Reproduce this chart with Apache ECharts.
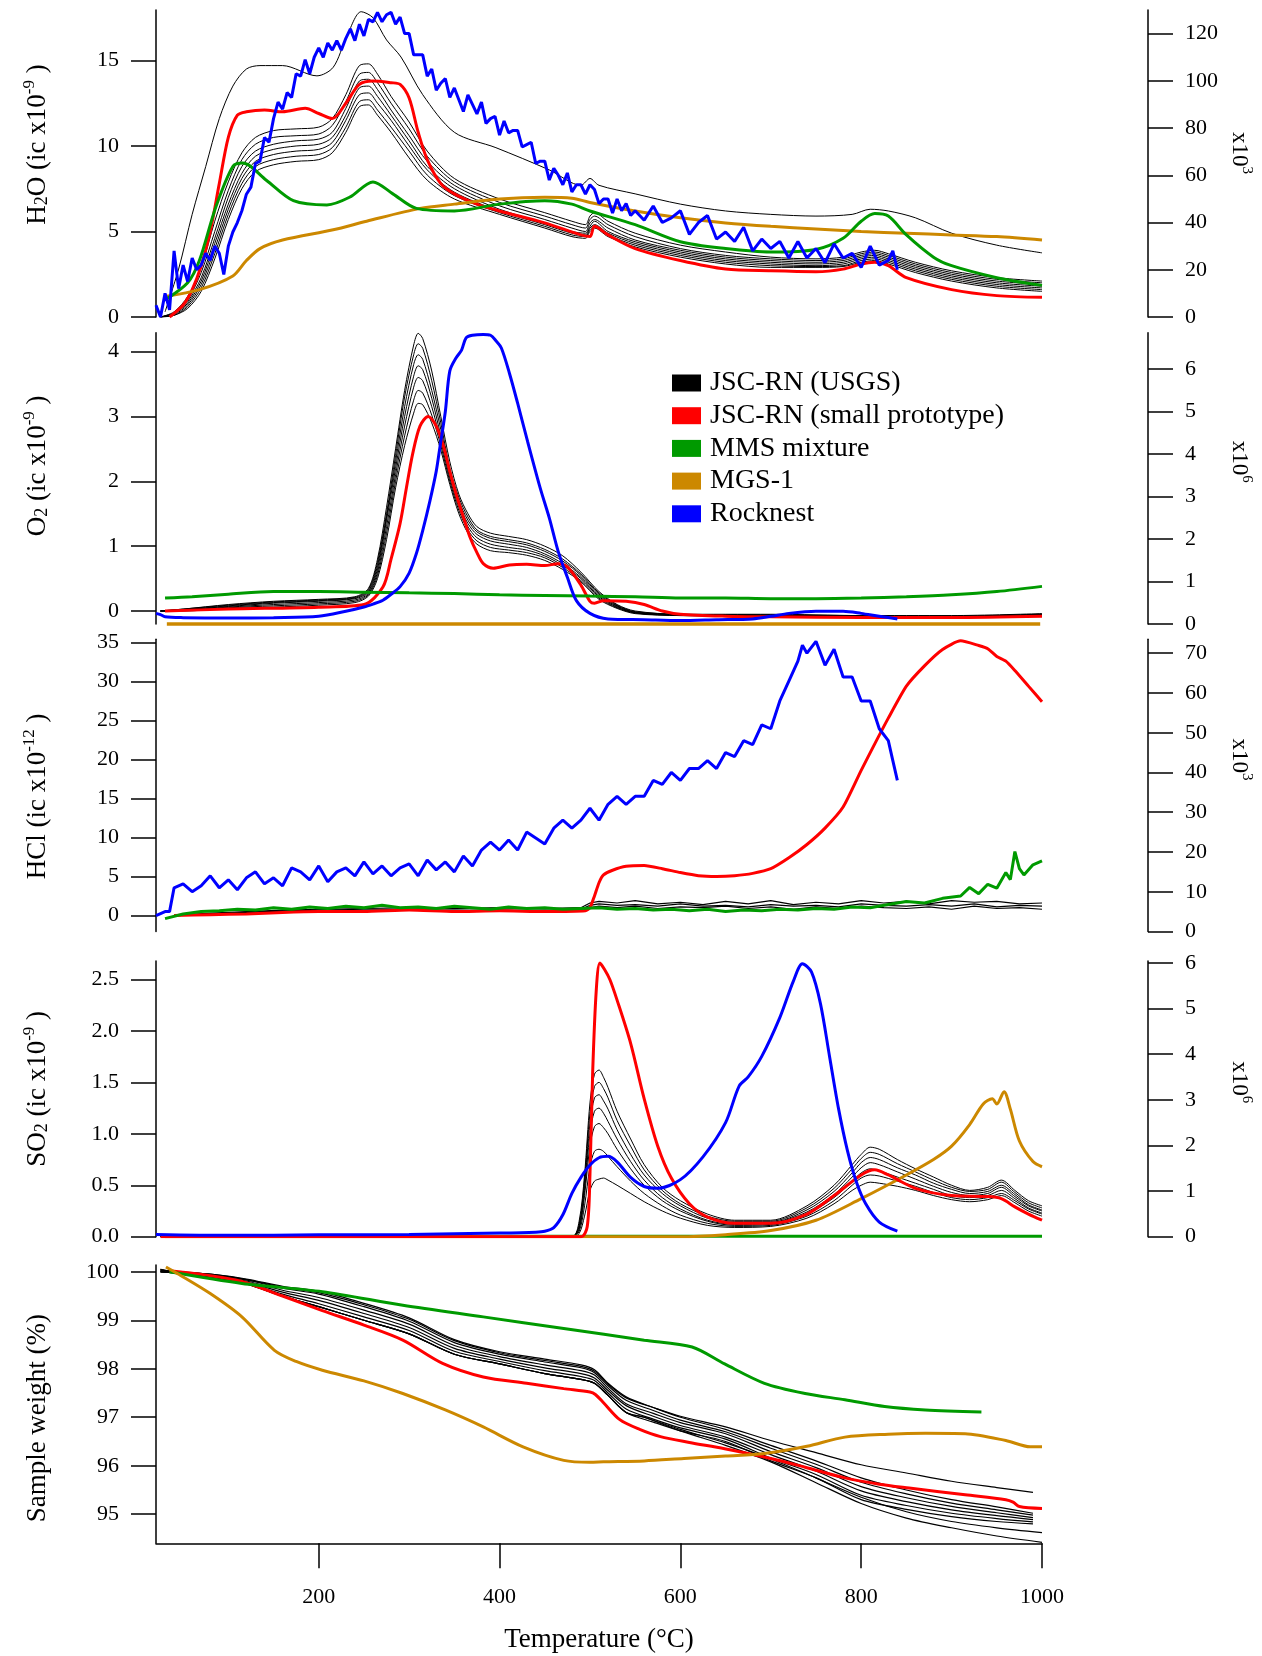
<!DOCTYPE html>
<html><head><meta charset="utf-8">
<script src="https://cdn.jsdelivr.net/npm/echarts@6/dist/echarts.min.js"></script>
<style>html,body{margin:0;padding:0;background:#fff}#c{width:1262px;height:1656px}</style>
</head><body><div id="c"></div>
<script>
// ---------------- tick labels ----------------
const xTicks = [200,400,600,800,1000];
const h2oTicksL = [0,5,10,15];
const h2oTicksR = [0,20,40,60,80,100,120];
const o2TicksL = [0,1,2,3,4];
const o2TicksR = [0,1,2,3,4,5,6];
const hclTicksL = [0,5,10,15,20,25,30,35];
const hclTicksR = [0,10,20,30,40,50,60,70];
const so2TicksL = [0,0.5,1,1.5,2,2.5];
const so2TicksR = [0,1,2,3,4,5,6];
const wTicksL = [95,96,97,98,99,100];
const legendNames = ['JSC-RN (USGS)','JSC-RN (small prototype)','MMS mixture','MGS-1','Rocknest'];

// ---------------- H2O ----------------
const h2oBlackT = [25,40,55,70,85,100,115,130,150,175,200,215,230,245,255,265,280,300,320,350,400,450,480,495,500,505,520,550,600,650,700,750,780,800,815,830,860,900,950,1000];
const h2oBlack1 = [0,0.3,1.2,2.9,5.6,7.9,9.6,10.5,10.9,11.0,11.1,11.6,13.0,14.7,14.8,14.2,12.9,11.4,9.7,8.1,6.9,6.1,5.6,5.4,5.9,6.1,5.6,4.9,4.2,3.8,3.5,3.4,3.5,3.8,3.9,3.7,3.2,2.7,2.3,2.1];
const h2oBlack2 = [0,0.25,1.0,2.6,5.0,7.4,9.2,10.1,10.5,10.6,10.7,11.2,12.6,14.2,14.3,13.7,12.5,11.0,9.4,7.9,6.7,5.9,5.4,5.2,5.7,5.9,5.4,4.7,4.0,3.6,3.4,3.3,3.4,3.7,3.8,3.6,3.1,2.6,2.2,2.0];
const h2oBlack3 = [0,0.2,0.9,2.3,4.6,7.0,8.8,9.7,10.1,10.3,10.4,10.8,12.2,13.8,13.9,13.3,12.1,10.6,9.1,7.7,6.5,5.7,5.2,5.0,5.5,5.7,5.2,4.5,3.9,3.5,3.3,3.2,3.3,3.6,3.7,3.5,3.0,2.5,2.1,1.9];
const h2oBlack4 = [0,0.2,0.8,2.1,4.3,6.6,8.4,9.4,9.8,10.0,10.1,10.5,11.8,13.4,13.5,12.9,11.8,10.3,8.8,7.5,6.3,5.5,5.0,4.9,5.3,5.6,5.0,4.4,3.8,3.4,3.2,3.1,3.2,3.5,3.6,3.4,2.9,2.4,2.0,1.8];
const h2oBlack5 = [0,0.15,0.7,1.9,4.0,6.3,8.1,9.1,9.5,9.7,9.8,10.2,11.5,13.0,13.1,12.5,11.5,10.0,8.6,7.3,6.2,5.4,4.9,4.8,5.2,5.4,4.9,4.3,3.7,3.3,3.1,3.0,3.1,3.4,3.5,3.3,2.8,2.3,1.9,1.7];
const h2oBlack6 = [0,0.1,0.6,1.7,3.7,6.0,7.8,8.8,9.2,9.4,9.5,9.9,11.1,12.6,12.7,12.1,11.1,9.7,8.3,7.1,6.1,5.3,4.8,4.7,5.1,5.3,4.8,4.2,3.6,3.2,3.0,2.95,3.0,3.3,3.4,3.2,2.7,2.2,1.8,1.6];
const h2oBlack7 = [0,0.1,0.5,1.5,3.4,5.7,7.5,8.5,8.9,9.1,9.2,9.6,10.8,12.3,12.4,11.8,10.8,9.3,8.0,6.9,6.0,5.2,4.7,4.6,5.0,5.2,4.7,4.1,3.5,3.1,2.9,2.9,2.95,3.2,3.3,3.1,2.6,2.1,1.7,1.5];
const h2oOutT = [30,45,60,75,90,105,120,135,160,198,216,231,247,260,275,291,315,350,396,455,490,500,510,550,600,650,700,750,790,810,830,860,900,950,1000];
const h2oOut  = [0.3,2.8,6.0,8.8,11.6,13.5,14.5,14.7,14.7,14.1,14.6,16.4,17.85,17.5,16.2,15.2,13.0,10.8,9.9,8.6,7.7,8.1,7.7,7.2,6.6,6.2,6.0,5.9,6.0,6.3,6.2,5.8,4.9,4.2,3.75];
const h2oRedT = [35,50,60,70,80,90,100,110,120,140,160,185,200,215,230,245,260,280,290,300,310,320,335,350,375,400,450,490,500,505,520,550,600,650,700,750,780,800,815,830,850,900,950,1000];
const h2oRed  = [0,0.7,1.6,3.0,5.0,7.8,10.5,11.8,12.0,12.1,12.0,12.2,11.9,11.6,12.5,13.6,13.8,13.7,13.6,12.8,10.8,9.2,7.8,7.2,6.6,6.2,5.5,4.8,4.7,5.3,4.8,4.0,3.3,2.8,2.7,2.65,2.8,3.1,3.2,3.0,2.3,1.6,1.25,1.15];
const h2oGreenT = [30,55,68,86,105,116,142,172,209,234,260,282,308,350,400,450,480,500,550,600,650,700,750,780,800,815,830,850,880,900,950,1000];
const h2oGreen  = [1.0,2.0,3.3,6.4,8.8,9.0,8.0,6.8,6.55,7.0,7.9,7.2,6.35,6.2,6.6,6.8,6.6,6.2,5.4,4.4,4.0,3.8,3.95,4.6,5.6,6.05,5.9,4.8,3.5,3.0,2.3,1.85];
const h2oOrangeT = [30,68,105,120,135,160,216,253,312,350,400,450,480,500,550,600,650,700,750,800,850,900,950,1000];
const h2oOrange  = [1.2,1.6,2.4,3.3,4.0,4.5,5.1,5.6,6.35,6.6,6.9,7.0,6.95,6.7,6.2,5.8,5.5,5.3,5.15,5.0,4.9,4.8,4.7,4.5];
const h2oBlueT = [20,25,30,35,40,45,50,55,60,65,70,75,80,85,90,95,100,105,110,115,
  120,125,130,135,140,145,150,155,160,165,170,175,180,185,190,195,200,205,210,215,
  220,225,230,235,240,245,250,255,260,265,270,275,280,285,290,295,300,305,310,315,
  320,325,330,335,340,345,350,355,360,365,370,375,380,385,390,395,400,405,410,415,
  420,425,430,435,440,445,450,455,460,465,470,475,480,485,490,495,500,505,510,515,
  520,525,530,535,540,545,550,
  560,570,580,590,600,610,620,630,640,650,660,670,680,690,700,710,720,730,740,750,760,770,780,790,800,810,820,830,835,840];
const h2oBlue = [5,0,10,3,28,12,22,15,25,20,22,27,24,30,27,18,30,36,40,45,
  52,55,65,66,76,74,84,91,88,95,93,103,102,109,103,110,114,110,116,113,
  117,113,118,122,117,124,119,126,125,129,125,128,129,124,127,120,120,111,111,111,
  102,105,96,99,101,93,97,92,87,94,90,86,91,82,84,85,77,83,78,79,
  79,72,73,74,65,66,66,58,63,60,56,61,53,56,56,52,56,54,48,50,
  50,44,50,45,48,43,45,
  41,47,40,42,45,35,40,43,33,36,32,38,28,33,29,32,25,32,25,29,23,31,25,27,21,30,22,24,28,20];

// ---------------- O2 ----------------
const o2BlackT = [25,50,100,150,200,240,255,265,275,285,295,305,310,315,325,335,345,355,365,375,390,410,430,450,470,490,510,530,550,600,700,800,900,1000];
const o2Black1 = [0,0.03,0.1,0.15,0.18,0.22,0.35,0.8,1.6,2.5,3.4,4.1,4.28,4.2,3.7,3.0,2.3,1.8,1.5,1.3,1.2,1.15,1.1,1.0,0.85,0.6,0.3,0.1,0.0,-0.05,-0.05,-0.07,-0.07,-0.04];
const o2Black2 = [0,0.03,0.09,0.14,0.17,0.21,0.33,0.75,1.5,2.4,3.3,3.95,4.12,4.05,3.55,2.9,2.2,1.75,1.45,1.25,1.15,1.1,1.05,0.95,0.8,0.57,0.28,0.09,-0.01,-0.05,-0.06,-0.07,-0.08,-0.05];
const o2Black3 = [0,0.02,0.08,0.13,0.16,0.2,0.31,0.7,1.45,2.3,3.15,3.8,3.95,3.88,3.4,2.8,2.15,1.7,1.4,1.22,1.12,1.07,1.02,0.92,0.77,0.55,0.26,0.08,-0.02,-0.06,-0.06,-0.08,-0.08,-0.05];
const o2Black4 = [0,0.02,0.07,0.12,0.15,0.19,0.29,0.65,1.4,2.2,3.0,3.62,3.78,3.72,3.28,2.7,2.1,1.65,1.35,1.18,1.08,1.03,0.98,0.88,0.73,0.52,0.24,0.07,-0.02,-0.06,-0.07,-0.08,-0.09,-0.06];
const o2Black5 = [0,0.01,0.06,0.1,0.13,0.17,0.27,0.6,1.3,2.1,2.85,3.45,3.6,3.55,3.15,2.62,2.05,1.6,1.3,1.13,1.03,0.98,0.94,0.85,0.7,0.5,0.22,0.06,-0.03,-0.06,-0.07,-0.08,-0.09,-0.06];
const o2Black6 = [0,0.01,0.05,0.08,0.11,0.15,0.25,0.55,1.2,2.0,2.7,3.25,3.4,3.36,3.02,2.55,2.0,1.55,1.25,1.08,0.98,0.94,0.9,0.82,0.67,0.47,0.2,0.05,-0.03,-0.07,-0.07,-0.09,-0.09,-0.06];
const o2Black7 = [0,0.0,0.04,0.06,0.09,0.13,0.23,0.5,1.1,1.9,2.55,3.05,3.2,3.18,2.9,2.48,1.95,1.5,1.2,1.03,0.93,0.9,0.86,0.78,0.64,0.45,0.18,0.04,-0.04,-0.07,-0.08,-0.09,-0.1,-0.07];
const o2RedT = [30,100,200,250,271,280,290,297,304,312,321,330,338,345,352,360,367,375,382,393,411,430,450,465,475,490,500,505,515,540,560,580,600,650,700,800,900,1000];
const o2Red  = [0,0.03,0.06,0.1,0.37,0.8,1.35,1.9,2.43,2.85,3.0,2.85,2.54,2.15,1.8,1.45,1.15,0.9,0.73,0.66,0.71,0.72,0.7,0.73,0.68,0.4,0.15,0.12,0.16,0.15,0.1,0.0,-0.05,-0.08,-0.09,-0.1,-0.1,-0.08];
const o2GreenT = [30,60,100,150,200,250,300,350,400,450,500,550,600,650,700,750,800,850,900,950,1000];
const o2Green  = [0.2,0.22,0.26,0.3,0.3,0.29,0.28,0.27,0.25,0.24,0.23,0.22,0.2,0.2,0.19,0.19,0.2,0.22,0.25,0.3,0.38];
const o2OrangeT = [32,998];
const o2Orange  = [-0.2,-0.2];
const o2BlueT = [20,25,30,50,100,150,200,230,250,260,271,280,290,300,308,315,323,330,334,340,345,352,358,363,370,382,390,396,402,411,420,431,445,455,465,475,485,500,520,560,600,640,680,700,720,750,780,800,820,840];
const o2Blue  = [0.25,0.22,0.17,0.15,0.14,0.15,0.18,0.3,0.4,0.47,0.56,0.7,0.88,1.2,1.66,2.2,2.9,3.6,4.16,5.0,5.96,6.27,6.45,6.74,6.8,6.82,6.8,6.67,6.5,5.9,5.2,4.3,3.2,2.5,1.7,1.1,0.55,0.25,0.12,0.1,0.08,0.1,0.12,0.18,0.25,0.3,0.3,0.25,0.18,0.12];

// ---------------- HCl ----------------
const hclBlackT = [40,80,120,160,200,250,300,350,400,450,490,500,510,530,550,575,600,625,650,675,700,725,750,775,800,825,850,875,900,925,950,975,1000];
const hclBlack1 = [0,0.3,0.5,0.7,0.8,0.9,1.0,0.9,1.0,0.9,1.0,1.6,1.8,1.6,1.9,1.5,1.7,1.4,1.8,1.5,1.9,1.4,1.7,1.5,1.9,1.6,1.8,1.5,1.9,1.7,1.8,1.5,1.6];
const hclBlack2 = [0,0.2,0.4,0.6,0.7,0.8,0.8,0.9,0.8,0.9,0.8,1.3,1.5,1.3,1.4,1.2,1.5,1.2,1.3,1.1,1.4,1.2,1.3,1.1,1.5,1.3,1.2,1.4,1.2,1.5,1.1,1.3,1.2];
const hclBlack3 = [0,0.1,0.3,0.5,0.6,0.6,0.7,0.7,0.6,0.7,0.6,1.0,1.2,1.0,1.2,0.9,1.1,1.0,1.2,0.9,1.1,0.8,1.1,0.9,1.2,1.0,0.9,1.1,0.8,1.2,0.9,1.0,0.8];
const hclRedT = [40,80,120,160,200,250,300,350,400,450,495,500,505,510,515,525,540,560,580,600,620,640,660,680,700,720,740,760,780,800,815,830,850,870,890,910,930,940,950,960,970,985,1000];
const hclRed  = [0,0.1,0.2,0.4,0.5,0.5,0.7,0.5,0.6,0.5,0.6,1.0,2.5,4.2,5.2,5.8,6.3,6.4,6.0,5.5,5.1,5.0,5.1,5.4,6.0,7.4,9.1,11.2,13.9,18.6,22.0,25.3,29.4,32.0,34.1,35.2,34.6,34.2,33.2,32.6,31.4,29.4,27.4];
const hclGreenT = [30,50,70,90,110,130,150,170,190,210,230,250,270,290,310,330,350,370,390,410,430,450,470,490,510,530,550,570,590,610,630,650,670,690,710,730,750,770,790,810,830,850,870,890,910,920,930,940,950,960,965,970,975,980,990,1000];
const hclGreen  = [-0.4,0.2,0.5,0.6,0.8,0.7,1.0,0.8,1.1,0.9,1.2,1.0,1.3,1.0,1.1,0.9,1.2,1.0,0.8,1.1,0.9,1.0,0.8,0.9,1.0,0.8,0.9,0.7,0.8,0.6,0.8,0.5,0.7,0.6,0.8,0.7,0.9,0.8,1.1,1.0,1.4,1.8,1.6,2.2,2.5,3.6,2.8,4.0,3.5,5.5,4.6,8.2,6.0,5.2,6.5,7.0];
const hclBlueT = [20,30,35,40,
  50,60,70,80,90,100,110,120,130,140,150,160,170,180,190,200,210,220,230,240,250,260,270,280,290,300,310,320,330,340,
  350,360,370,380,390,400,410,420,430,440,450,460,470,480,490,500,510,520,530,540,550,560,570,580,590,600,610,620,630,640,
  650,660,670,680,690,700,710,720,730,735,740,750,760,770,780,790,800,810,820,830,835,840];
const hclBlue = [4,5,5,11,
  12,10,11.5,14,11,13,10.5,13.5,15,12,13.5,11.5,16,15,13,16.5,12.5,15,16,14,17.5,14.5,16.5,14,16,17,14,18,15.5,17.5,
  15,19,16.5,20.5,22.5,20.5,23,20.5,25,23.5,22,26,28,26,28,31,28,32,34,32,34,34,38,37,40,38,41,41,43,41,
  45,44,48,47,52,51,58,63,68,72,70,73,67,71,64,64,58,58,51,48,43,38];

// ---------------- SO2 ----------------
const so2BlackT = [25,480,488,494,500,505,510,515,520,530,545,560,580,600,630,660,700,740,770,790,800,810,820,840,860,880,900,920,940,955,970,985,1000];
const so2Black1 = [0,0,0.15,0.6,1.3,1.58,1.62,1.55,1.45,1.22,0.95,0.7,0.48,0.35,0.22,0.16,0.16,0.3,0.5,0.7,0.8,0.87,0.85,0.75,0.66,0.58,0.5,0.45,0.48,0.55,0.45,0.35,0.3];
const so2Black2 = [0,0,0.12,0.55,1.2,1.46,1.5,1.44,1.35,1.13,0.88,0.65,0.45,0.32,0.2,0.15,0.15,0.28,0.47,0.66,0.76,0.82,0.8,0.71,0.63,0.55,0.48,0.44,0.46,0.53,0.43,0.33,0.28];
const so2Black3 = [0,0,0.1,0.5,1.1,1.35,1.38,1.32,1.24,1.04,0.8,0.6,0.42,0.3,0.18,0.14,0.14,0.26,0.44,0.62,0.72,0.77,0.75,0.67,0.6,0.52,0.46,0.42,0.44,0.5,0.41,0.31,0.26];
const so2Black4 = [0,0,0.08,0.45,1.0,1.22,1.25,1.2,1.12,0.95,0.73,0.55,0.38,0.27,0.16,0.12,0.13,0.24,0.41,0.58,0.67,0.72,0.7,0.63,0.56,0.49,0.43,0.4,0.42,0.48,0.39,0.3,0.25];
const so2Black5 = [0,0,0.07,0.4,0.88,1.07,1.1,1.06,1.0,0.85,0.66,0.5,0.35,0.25,0.15,0.11,0.12,0.22,0.38,0.54,0.62,0.66,0.64,0.58,0.52,0.46,0.4,0.38,0.4,0.45,0.37,0.28,0.23];
const so2Black6 = [0,0,0.05,0.3,0.68,0.83,0.85,0.83,0.78,0.68,0.54,0.42,0.3,0.21,0.13,0.1,0.11,0.2,0.35,0.5,0.57,0.6,0.59,0.54,0.49,0.43,0.38,0.36,0.38,0.42,0.35,0.27,0.22];
const so2Black7 = [0,0,0.03,0.2,0.45,0.54,0.56,0.57,0.55,0.5,0.42,0.34,0.25,0.18,0.11,0.09,0.1,0.18,0.32,0.45,0.5,0.53,0.52,0.49,0.45,0.4,0.36,0.34,0.36,0.4,0.33,0.25,0.2];
const so2RedT = [25,490,497,500,503,507,511,516,522,530,545,560,575,590,610,630,660,700,740,770,800,815,830,860,900,940,955,970,985,1000];
const so2Red  = [0,0,0.1,0.6,1.6,2.4,2.66,2.6,2.5,2.3,1.88,1.34,0.88,0.57,0.32,0.19,0.13,0.13,0.22,0.4,0.6,0.65,0.6,0.47,0.4,0.39,0.37,0.29,0.22,0.16];
const so2GreenT = [30,1000];
const so2Green  = [0.005,0.005];
const so2OrangeT = [30,600,650,700,750,800,850,880,900,920,935,945,950,958,965,975,990,1000];
const so2Orange  = [0,0,0.02,0.06,0.16,0.37,0.6,0.75,0.88,1.09,1.29,1.34,1.29,1.41,1.24,0.93,0.73,0.68];
const so2BlueT = [20,100,200,300,400,440,450,460,470,480,490,500,510,520,530,545,560,575,600,625,650,665,675,690,710,725,735,745,755,765,775,785,795,805,820,840];
const so2Blue  = [0.05,0.03,0.04,0.05,0.08,0.1,0.12,0.2,0.48,0.95,1.3,1.57,1.73,1.76,1.64,1.3,1.1,1.06,1.25,1.75,2.5,3.3,3.5,3.95,4.8,5.6,5.98,5.8,5.1,3.95,2.8,1.87,1.18,0.72,0.32,0.12];

// ---------------- Sample weight ----------------
const wBlackT = [25,40,80,120,160,200,250,300,350,400,450,490,505,520,540,570,600,650,700,750,800,850,900,950,990];
const wBlack1 = [100.05,100.0,99.95,99.85,99.7,99.6,99.35,99.05,98.6,98.35,98.2,98.08,97.98,97.7,97.42,97.2,97.0,96.75,96.42,96.1,95.75,95.5,95.3,95.15,95.02];
const wBlack2 = [100.04,100.0,99.94,99.83,99.66,99.54,99.28,98.98,98.54,98.3,98.14,98.02,97.92,97.65,97.35,97.14,96.94,96.7,96.36,96.03,95.66,95.42,95.23,95.09,94.98];
const wBlack3 = [100.03,99.99,99.93,99.81,99.62,99.47,99.21,98.92,98.48,98.25,98.08,97.96,97.87,97.6,97.28,97.08,96.89,96.66,96.29,95.96,95.57,95.34,95.16,95.03,94.93];
const wBlack4 = [100.02,99.99,99.92,99.79,99.58,99.41,99.14,98.85,98.42,98.2,98.02,97.9,97.81,97.55,97.24,97.02,96.83,96.59,96.23,95.89,95.48,95.26,95.09,94.97,94.89];
const wBlack5 = [100.01,99.98,99.91,99.77,99.54,99.34,99.07,98.79,98.36,98.15,97.96,97.84,97.76,97.5,97.17,96.96,96.78,96.55,96.16,95.82,95.39,95.18,95.02,94.91,94.84];
const wBlack6 = [100.0,99.98,99.9,99.75,99.5,99.28,99.0,98.72,98.3,98.1,97.9,97.78,97.7,97.45,97.1,96.9,96.72,96.5,96.1,95.75,95.3,95.1,94.95,94.85,94.8];
const wBlackUp = [100.05,100.0,99.95,99.84,99.68,99.57,99.32,99.02,98.58,98.33,98.17,98.05,97.95,97.68,97.4,97.2,97.02,96.8,96.52,96.27,96.02,95.85,95.68,95.55,95.45];
const wLowT = [25,40,80,120,160,200,250,300,350,400,450,490,505,520,540,560,600,650,700,750,800,850,900,950,1000];
const wBlackLow1 = [100.0,99.98,99.9,99.75,99.5,99.28,99.0,98.72,98.3,98.1,97.9,97.78,97.7,97.45,97.1,97.0,96.72,96.42,96.08,95.65,95.22,94.92,94.72,94.55,94.42];
const wBlackLow2 = [100.0,99.98,99.9,99.75,99.5,99.28,99.0,98.72,98.3,98.1,97.9,97.78,97.7,97.45,97.1,97.0,96.75,96.47,96.14,95.75,95.35,95.05,94.85,94.72,94.62];
const wRedT = [35,80,115,160,204,250,293,337,382,430,471,500,506,515,533,555,578,610,649,700,738,782,820,853,915,960,968,975,1000];
const wRed  = [100.02,99.92,99.8,99.5,99.2,98.9,98.59,98.11,97.83,97.7,97.59,97.52,97.47,97.3,96.95,96.75,96.6,96.48,96.35,96.15,95.97,95.75,95.62,95.54,95.4,95.3,95.25,95.16,95.12];
const wGreenT = [35,115,204,293,382,471,560,613,649,693,738,782,826,871,933];
const wGreen  = [100.0,99.76,99.59,99.31,99.07,98.83,98.59,98.45,98.1,97.7,97.49,97.36,97.22,97.15,97.11];
const wOrangeT = [31,44,80,115,151,175,204,250,293,340,382,426,471,500,515,560,604,650,693,740,782,830,871,915,960,987,1000];
const wOrange  = [100.1,99.96,99.55,99.07,98.38,98.15,97.97,97.75,97.49,97.15,96.8,96.39,96.11,96.07,96.08,96.1,96.15,96.2,96.25,96.4,96.59,96.65,96.67,96.66,96.52,96.39,96.39];

// ---------------- build ----------------
const FONT = "'Liberation Serif','Times New Roman',serif";
const C = {black:'#000000', red:'#ff0000', green:'#009a00', orange:'#cc8800', blue:'#0000ff'};

const gridBoxes = [[10,307],[332.7,291.3],[639.3,292.2],[961,275.7],[1265,278.3]];
const grid = gridBoxes.map(g => ({left:156, width:886, top:g[0], height:g[1], outerBoundsMode:'none', containLabel:false}));

const lineCfg = {show:true, onZero:false, lineStyle:{color:'#000', width:1.5}};
const tickCfg = v => ({show:true, inside:false, length:25, customValues:v, lineStyle:{color:'#000', width:1.5}});
const plain = v => String(v);
const labCfg = (v, fmt) => ({show:true, customValues:v, margin:37, fontFamily:FONT, fontSize:22, color:'#000', formatter:fmt || plain});

const richL = {
  n:{fontFamily:FONT, fontSize:27, color:'#000', lineHeight:30, verticalAlign:'bottom'},
  b:{fontFamily:FONT, fontSize:18, color:'#000', lineHeight:18, verticalAlign:'bottom'},
  p:{fontFamily:FONT, fontSize:17, color:'#000', lineHeight:16, verticalAlign:'top', padding:[0,0,24,0]}
};
const richR = {
  n:{fontFamily:FONT, fontSize:23, color:'#000', lineHeight:26, verticalAlign:'bottom'},
  p:{fontFamily:FONT, fontSize:15, color:'#000', lineHeight:14, verticalAlign:'top', padding:[0,0,16,0]}
};

function yLeft(gi, min, max, ticks, name, pad, fmt) {
  return {type:'value', gridIndex:gi, position:'left', min, max,
    axisLine:lineCfg, axisTick:tickCfg(ticks), axisLabel:labCfg(ticks, fmt), splitLine:{show:false},
    name, nameLocation:'middle', nameRotate:90, nameGap:105, nameMoveOverlap:false,
    nameTextStyle:{rich:richL, fontFamily:FONT, fontSize:27, color:'#000', lineHeight:30, padding:pad}};
}
function yRight(gi, min, max, ticks, name, pad) {
  return {type:'value', gridIndex:gi, position:'right', offset:106, min, max,
    axisLine:lineCfg, axisTick:tickCfg(ticks), axisLabel:labCfg(ticks), splitLine:{show:false},
    name, nameLocation:'middle', nameRotate:-90, nameGap:80, nameMoveOverlap:false,
    nameTextStyle:{rich:richR, fontFamily:FONT, fontSize:23, color:'#000', padding:pad}};
}

const yAxis = [
  yLeft(0, 0, 17.95, h2oTicksL, '{n|H}{b|2}{n|O (ic x10}{p|-9}{n| )}', [0,0,0,38]),
  yLeft(1, -0.2, 4.29, o2TicksL, '{n|O}{b|2}{n| (ic x10}{p|-9}{n| )}', [0,0,0,25]),
  yLeft(2, -2.05, 35.4, hclTicksL, '{n|HCl (ic x10}{p|-12}{n| )}', [0,22,0,0]),
  yLeft(3, 0, 2.68, so2TicksL, '{n|SO}{b|2}{n| (ic x10}{p|-9}{n| )}', [0,0,0,20], v => v.toFixed(1)),
  yLeft(4, 94.40, 100.14, wTicksL, '{n|Sample weight (%)}', [0,28,0,0]),
  yRight(0, 0, 130, h2oTicksR, '{n|x10}{p|3}', [0,21,0,0]),
  yRight(1, 0, 6.86, o2TicksR, '{n|x10}{p|6}', [0,33,0,0]),
  yRight(2, 0, 73.5, hclTicksR, '{n|x10}{p|3}', [0,52,0,0]),
  yRight(3, 0, 6.04, so2TicksR, '{n|x10}{p|6}', [0,33,0,0])
];

const xAxis = [0,1,2,3,4].map(i => i < 4 ? {type:'value', gridIndex:i, min:20, max:1000, show:false} : {
  type:'value', gridIndex:4, min:20, max:1000, position:'bottom',
  axisLine:lineCfg, axisTick:tickCfg(xTicks),
  axisLabel:{show:true, customValues:xTicks, margin:43, fontFamily:FONT, fontSize:22, color:'#000', formatter:plain},
  splitLine:{show:false},
  name:'Temperature (°C)', nameLocation:'middle', nameGap:82, nameMoveOverlap:false,
  nameTextStyle:{fontFamily:FONT, fontSize:27, color:'#000', lineHeight:30}
});

const series = [];
function add(name, xs, ys, gi, yi, color, width, smooth, extra) {
  series.push(Object.assign({
    type:'line', name, xAxisIndex:gi, yAxisIndex:yi,
    data: xs.map((x, i) => [x, ys[i]]),
    showSymbol:false, symbol:'none', smooth: smooth || false,
    lineStyle:{color, width}, itemStyle:{color}, silent:true, animation:false
  }, extra || {}));
}
const N = legendNames;
// H2O
[h2oBlack1,h2oBlack2,h2oBlack3,h2oBlack4,h2oBlack5,h2oBlack6,h2oBlack7].forEach(a => add(N[0], h2oBlackT, a, 0, 0, C.black, 1, 0.3));
add(N[0], h2oOutT, h2oOut, 0, 0, C.black, 1, 0.3);
add(N[1], h2oRedT, h2oRed, 0, 0, C.red, 3, 0.3);
add(N[3], h2oOrangeT, h2oOrange, 0, 0, C.orange, 3, 0.3);
add(N[2], h2oGreenT, h2oGreen, 0, 0, C.green, 3, 0.3);
add(N[4], h2oBlueT, h2oBlue, 0, 5, C.blue, 3, false);
// O2
[o2Black1,o2Black2,o2Black3,o2Black4,o2Black5,o2Black6,o2Black7].forEach(a => add(N[0], o2BlackT, a, 1, 1, C.black, 1, 0.3));
add(N[1], o2RedT, o2Red, 1, 1, C.red, 3, 0.3);
add(N[2], o2GreenT, o2Green, 1, 1, C.green, 3, 0.3);
add(N[3], o2OrangeT, o2Orange, 1, 1, C.orange, 3.5, false, {clip:false});
add(N[4], o2BlueT, o2Blue, 1, 6, C.blue, 3, 0.3);
// HCl
[hclBlack1,hclBlack2,hclBlack3].forEach(a => add(N[0], hclBlackT, a, 2, 2, C.black, 1.2, false));
add(N[1], hclRedT, hclRed, 2, 2, C.red, 3, 0.2);
add(N[2], hclGreenT, hclGreen, 2, 2, C.green, 3, false);
add(N[4], hclBlueT, hclBlue, 2, 7, C.blue, 3, false);
// SO2
[so2Black1,so2Black2,so2Black3,so2Black4,so2Black5,so2Black6,so2Black7].forEach(a => add(N[0], so2BlackT, a, 3, 3, C.black, 1, 0.3));
add(N[2], so2GreenT, so2Green, 3, 3, C.green, 3, false);
add(N[3], so2OrangeT, so2Orange, 3, 3, C.orange, 3, 0.3);
add(N[1], so2RedT, so2Red, 3, 3, C.red, 3, 0.3);
add(N[4], so2BlueT, so2Blue, 3, 8, C.blue, 3, 0.3);
// Weight
[wBlack1,wBlack2,wBlack3,wBlack4,wBlack5,wBlack6,wBlackUp].forEach(a => add(N[0], wBlackT, a, 4, 4, C.black, 1.2, 0.3));
[wBlackLow1,wBlackLow2].forEach(a => add(N[0], wLowT, a, 4, 4, C.black, 1.2, 0.3));
add(N[1], wRedT, wRed, 4, 4, C.red, 3, 0.3);
add(N[2], wGreenT, wGreen, 4, 4, C.green, 3, 0.3);
add(N[3], wOrangeT, wOrange, 4, 4, C.orange, 3, 0.3);

const chart = echarts.init(document.getElementById('c'), null, {renderer:'canvas', width:1262, height:1656});
chart.setOption({
  animation:false,
  backgroundColor:'#ffffff',
  grid, xAxis, yAxis, series,
  legend:{
    data:legendNames, orient:'vertical', left:667, top:364, itemWidth:29, itemHeight:17, itemGap:4.7,
    icon:'rect', selectedMode:false, itemStyle:{borderWidth:0},
    textStyle:{fontFamily:FONT, fontSize:28, color:'#000', lineHeight:27, padding:[0,0,0,4]}
  }
});
</script></body></html>
